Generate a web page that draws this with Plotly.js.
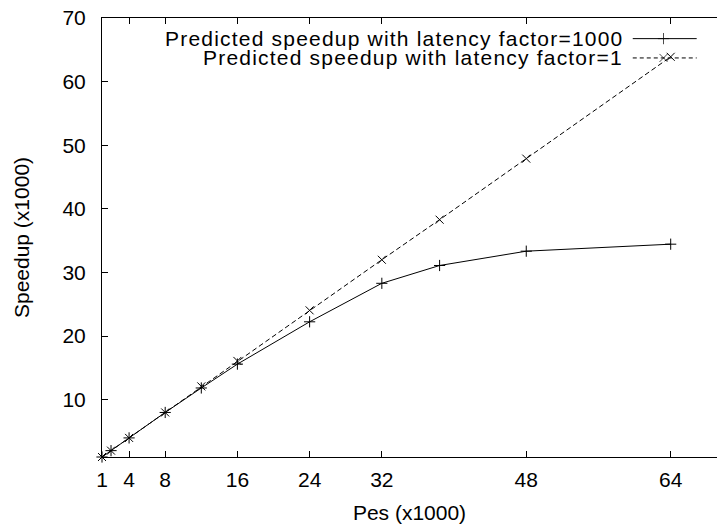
<!DOCTYPE html>
<html>
<head>
<meta charset="utf-8">
<script src="https://cdn.plot.ly/plotly-3.0.1.min.js"></script>
<style>
html,body{margin:0;padding:0;background:#fff;}
#chart{width:717px;height:527px;}
.annotation-text{letter-spacing:1.2px;}
</style>
</head>
<body>
<div id="chart"></div>
<script>
// ---- data (Pes and speedup, both in thousands) ----
const pes = [1, 2, 4, 8, 12, 16, 24, 32, 38.4, 48, 64];
const speedupLatency1000 = [1, 2, 4, 8, 11.85, 15.6, 22.25, 28.3, 31.1, 33.35, 34.45];
const speedupLatency1 = [1, 2, 4, 8, 12.1, 16.1, 24.05, 32.0, 38.3, 47.9, 63.9];
const seriesNames = ["Predicted speedup with latency factor=1000", "Predicted speedup with latency factor=1"];
const xTicks = [1, 4, 8, 16, 24, 32, 48, 64];
const yTicks = [10, 20, 30, 40, 50, 60, 70];
const xTitle = "Pes (x1000)";
const yTitle = "Speedup (x1000)";

const FONT = "Liberation Sans, Arial, Helvetica, sans-serif";

const traces = [
  {x: pes, y: speedupLatency1000, type: "scatter", mode: "lines+markers", name: seriesNames[0], cliponaxis: false,
   line: {color: "#000", width: 1}, marker: {symbol: "cross-thin-open", size: 8, line: {color: "#000", width: 1}}},
  {x: pes, y: speedupLatency1, type: "scatter", mode: "lines+markers", name: seriesNames[1], cliponaxis: false,
   line: {color: "#000", width: 1, dash: "5px,3px"}, marker: {symbol: "x-thin-open", size: 8, line: {color: "#000", width: 1}}},
  // legend samples (overlay axes in 0..1 units)
  {x: [0.863, 0.913, 0.967], y: [0.953, 0.953, 0.953], xaxis: "x2", yaxis: "y2", type: "scatter", mode: "lines+markers",
   line: {color: "#000", width: 1}, marker: {symbol: "cross-thin-open", size: [0, 8, 0], line: {color: "#000", width: 1}}, hoverinfo: "skip"},
  {x: [0.863, 0.913, 0.967], y: [0.909, 0.909, 0.909], xaxis: "x2", yaxis: "y2", type: "scatter", mode: "lines+markers",
   line: {color: "#000", width: 1, dash: "4px,3px"}, marker: {symbol: "x-thin-open", size: [0, 8, 0], line: {color: "#000", width: 1}}, hoverinfo: "skip"}
];

const layout = {
  width: 717, height: 527,
  margin: {l: 102, r: 0, t: 18, b: 70, pad: 0},
  paper_bgcolor: "#fff", plot_bgcolor: "#fff",
  showlegend: false,
  font: {family: FONT, size: 21, color: "#000"},
  xaxis: {
    range: [1, 69.13], tickmode: "array", tickvals: xTicks, ticktext: xTicks.map(String),
    showgrid: false, zeroline: false, showline: true, linecolor: "#000", linewidth: 1,
    mirror: "ticks", ticks: "inside", ticklen: 6, tickcolor: "#000", tickwidth: 1,
    ticklabelstandoff: 4,
    title: {text: xTitle, font: {family: FONT, size: 21, color: "#000"}, standoff: 15}
  },
  yaxis: {
    range: [1, 70], tickmode: "array", tickvals: yTicks, ticktext: yTicks.map(String),
    showgrid: false, zeroline: false, showline: true, linecolor: "#000", linewidth: 1,
    mirror: false, ticks: "inside", ticklen: 6, tickcolor: "#000", tickwidth: 1,
    ticklabelstandoff: 11,
    title: {text: yTitle, font: {family: FONT, size: 21, color: "#000"}, standoff: 27}
  },
  xaxis2: {overlaying: "x", range: [0, 1], visible: false, fixedrange: true},
  yaxis2: {overlaying: "y", range: [0, 1], visible: false, fixedrange: true},
  annotations: [
    {xref: "paper", yref: "paper", x: 0.851, y: 0.953, xanchor: "right", yanchor: "middle", showarrow: false,
     text: seriesNames[0], font: {family: FONT, size: 21, color: "#000"}},
    {xref: "paper", yref: "paper", x: 0.851, y: 0.909, xanchor: "right", yanchor: "middle", showarrow: false,
     text: seriesNames[1], font: {family: FONT, size: 21, color: "#000"}}
  ]
};

Plotly.newPlot("chart", traces, layout, {displayModeBar: false, staticPlot: true});
</script>
</body>
</html>
